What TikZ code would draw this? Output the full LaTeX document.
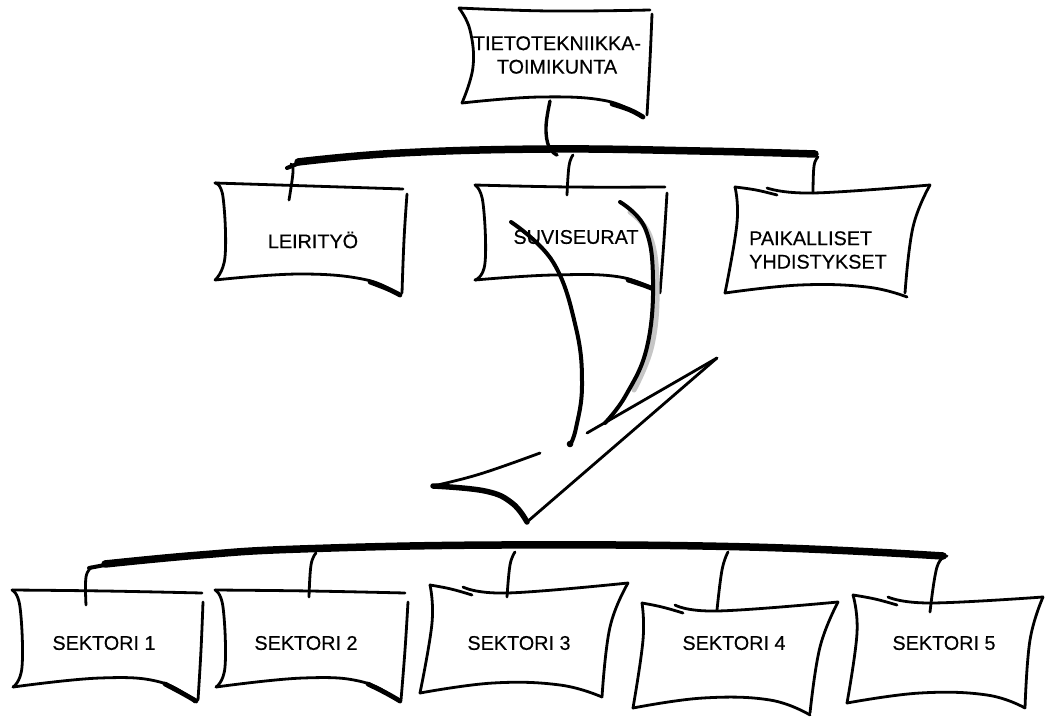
\documentclass[tikz,border=0pt]{standalone}
\usepackage{fontspec}
\setmainfont{Liberation Sans}[FakeBold=0.4]
\begin{document}
\begin{tikzpicture}[x=1pt,y=-1pt,
  ink/.style={line width=2.8pt, line cap=round, line join=round},
  heavy/.style={line width=4.8pt, line cap=round, line join=round},
  barline/.style={line width=7.5pt, line cap=round, line join=round},
  lbl/.style={font=\fontsize{19.8}{23.5}\selectfont, inner sep=0pt, align=center},
  sm/.style={smooth, tension=0.7}]
\useasboundingbox (0,0) rectangle (1046,717);
\fill[white] (0,0) rectangle (1046,717);

% ---- top box
\draw[ink] plot[sm] coordinates {(459,8)(470,30)(473,67)(462,103)};
\draw[ink] plot[sm] coordinates {(459,8)(550,11)(650,10)};
\draw[ink] plot[sm] coordinates {(652,14)(650,60)(647,115)};
\draw[ink] plot[sm] coordinates {(462,103)(540,97)(607,101)(643,118)};
\draw[heavy] plot[sm] coordinates {(612,104)(630,110)(643,117)};
\node[lbl] (toim) at (557,55) {TIETOTEKNIIKKA-\\TOIMIKUNTA};

% ---- upper bar and drops
\draw[line width=3.4pt, line cap=round] plot[sm] coordinates {(550,101)(546,127)(549,147)(557,155)};
\draw[line width=4pt, line cap=round] (287,168) -- (302,162);
\draw[barline] plot[sm] coordinates {(298,162)(400,153)(550,149)(700,151)(815,154)};
\draw[ink] plot[sm] coordinates {(291,164)(293,172)(289,200)};
\draw[ink] plot[sm] coordinates {(573,155)(569,166)(567,195)};
\draw[ink] plot[sm] coordinates {(818,157)(814,166)(813,193)};

% ---- LEIRITYÖ
\draw[ink] plot[sm] coordinates {(215,183)(223,197)(225,257)(215,280)};
\draw[ink] plot[sm] coordinates {(215,183)(310,186)(403,189)};
\draw[ink] plot[sm] coordinates {(407,194)(404,240)(402,293)};
\draw[ink] plot[sm] coordinates {(215,280)(300,274)(367,280)(400,296)};
\draw[heavy] plot[sm] coordinates {(370,282)(388,289)(400,295)};
\node[lbl] (leiri) at (313,240) {LEIRITYÖ};

% ---- SUVISEURAT
\draw[ink] plot[sm] coordinates {(475,185)(483,203)(485,263)(475,280)};
\draw[ink] plot[sm] coordinates {(475,185)(570,187)(665,187)};
\draw[ink] plot[sm] coordinates {(667,193)(664,240)(660,293)};
\draw[ink] plot[sm] coordinates {(475,280)(553,275)(620,277)(658,292)};
\draw[heavy] plot[sm] coordinates {(628,280)(646,286)(658,291)};
\node[lbl] (suvi) at (576,237) {SUVISEURAT};

% ---- PAIKALLISET YHDISTYKSET
\draw[ink] plot[sm] coordinates {(735,187)(756,190)(777,195)};
\draw[ink] plot[sm] coordinates {(767,188)(813,193)(930,185)};
\draw[ink] plot[sm] coordinates {(930,185)(913,227)(905,293)};
\draw[ink] plot[sm] coordinates {(735,187)(737,223)(725,293)};
\draw[ink] plot[sm] coordinates {(725,293)(800,285)(867,287)(907,297)};
\node[lbl, align=left, anchor=west] (paik) at (749,250) {PAIKALLISET\\YHDISTYKSET};

% ---- big sketched arrow
\draw[line width=5pt, gray!45, line cap=round] plot[sm] coordinates {(630,212)(650,236)(657,285)(652,345)(634,390)};
\draw[line width=4pt, line cap=round] plot[sm] coordinates {(511,222)(553,262)(576,328)(582,385)(576,428)(570,445)};
\fill (570,444) circle (3.3pt);
\draw[line width=4pt, line cap=round] plot[sm] coordinates {(620,202)(645,228)(653,280)(647,347)(626,395)(605,423)};
\draw[ink] (587,433) -- (717,358);
\draw[ink] (717,358) -- (527,522);
\draw[line width=5.5pt, line cap=round] plot[sm] coordinates {(527,522)(512,503)(485,491)(433,486)};
\draw[ink] plot[sm] coordinates {(433,486)(480,474)(540,453)};

% ---- lower bar and drops
\draw[line width=4pt, line cap=round] (89,568) -- (110,564);
\draw[barline] plot[sm] coordinates {(105,564)(200,555)(300,549)(500,545)(750,547)(943,556)};
\draw[ink] plot[sm] coordinates {(92,567)(86,577)(86,605)};
\draw[ink] plot[sm] coordinates {(316,553)(311,565)(309,597)};
\draw[ink] plot[sm] coordinates {(515,552)(510,565)(507,597)};
\draw[ink] plot[sm] coordinates {(728,552)(722,570)(717,610)};
\draw[ink] plot[sm] coordinates {(947,556)(937,567)(930,612)};

% ---- SEKTORI 1
\draw[ink] plot[sm] coordinates {(12,590)(20,607)(22,667)(13,687)};
\draw[ink] plot[sm] coordinates {(12,590)(105,591)(202,593)};
\draw[ink] plot[sm] coordinates {(203,602)(201,650)(198,700)};
\draw[ink] plot[sm] coordinates {(13,687)(100,678)(160,682)(195,702)};
\draw[heavy] plot[sm] coordinates {(165,684)(182,693)(196,701)};
\node[lbl] (s1) at (104,643) {SEKTORI 1};

% ---- SEKTORI 2
\draw[ink] plot[sm] coordinates {(215,590)(223,607)(225,667)(216,687)};
\draw[ink] plot[sm] coordinates {(215,590)(310,591)(405,593)};
\draw[ink] plot[sm] coordinates {(408,602)(405,650)(401,700)};
\draw[ink] plot[sm] coordinates {(216,687)(303,678)(363,682)(400,702)};
\draw[heavy] plot[sm] coordinates {(368,684)(386,693)(400,701)};
\node[lbl] (s2) at (306,643) {SEKTORI 2};

% ---- SEKTORI 3
\draw[ink] plot[sm] coordinates {(430,585)(451,589)(472,595)};
\draw[ink] plot[sm] coordinates {(463,587)(507,593)(628,583)};
\draw[ink] plot[sm] coordinates {(628,583)(610,627)(602,697)};
\draw[ink] plot[sm] coordinates {(430,585)(432,623)(420,693)};
\draw[ink] plot[sm] coordinates {(420,693)(493,683)(560,685)(602,697)};
\node[lbl] (s3) at (519,643) {SEKTORI 3};

% ---- SEKTORI 4
\draw[ink] plot[sm] coordinates {(642,603)(662,607)(683,613)};
\draw[ink] plot[sm] coordinates {(675,605)(717,611)(838,602)};
\draw[ink] plot[sm] coordinates {(838,602)(820,647)(810,713)};
\draw[ink] plot[sm] coordinates {(642,603)(643,640)(633,708)};
\draw[ink] plot[sm] coordinates {(633,708)(703,698)(770,700)(810,715)};
\node[lbl] (s4) at (734,643) {SEKTORI 4};

% ---- SEKTORI 5
\draw[ink] plot[sm] coordinates {(853,595)(875,599)(897,605)};
\draw[ink] plot[sm] coordinates {(888,597)(930,603)(1043,597)};
\draw[ink] plot[sm] coordinates {(1043,597)(1030,640)(1025,708)};
\draw[ink] plot[sm] coordinates {(853,595)(857,633)(847,703)};
\draw[ink] plot[sm] coordinates {(847,703)(920,693)(987,695)(1025,708)};
\node[lbl] (s5) at (944,643) {SEKTORI 5};
\end{tikzpicture}
\end{document}
